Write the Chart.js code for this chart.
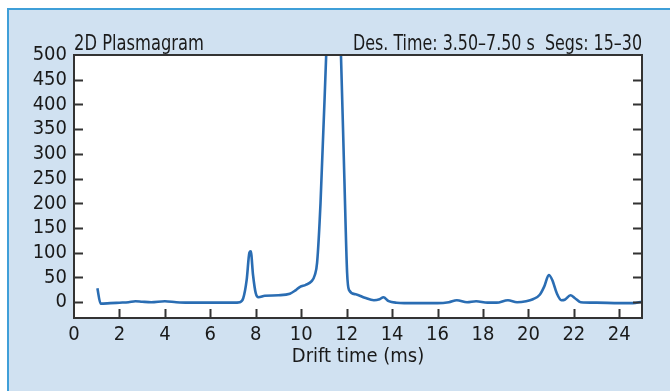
<!DOCTYPE html>
<html>
<head>
<meta charset="utf-8">
<script src="https://cdn.jsdelivr.net/npm/chart.js@4/dist/chart.umd.min.js"></script>
<style>
  html, body { margin: 0; padding: 0; background: #ffffff; }
  #wrap { width: 670px; height: 391px; position: relative; }
</style>
</head>
<body>
<div id="wrap"><canvas id="c" width="670" height="391"></canvas></div>
<script>
// ---- data ----
const driftTime = [1.03, 1.17, 1.6, 2.0, 2.4, 2.7, 3.0, 3.4, 4.0, 4.5, 5.0, 6.0, 7.0, 7.3, 7.45, 7.6, 7.72, 7.78, 7.88, 8.0, 8.12, 8.4, 9.0, 9.5, 9.75, 9.95, 10.2, 10.45, 10.6, 10.7, 10.85, 11.1, 11.42, 11.75, 11.9, 12.02, 12.1, 12.4, 12.8, 13.2, 13.45, 13.62, 13.85, 14.2, 15.0, 16.0, 16.5, 16.85, 17.3, 17.7, 18.2, 18.6, 19.1, 19.5, 19.9, 20.2, 20.5, 20.7, 20.9, 21.05, 21.25, 21.45, 21.6, 21.85, 22.05, 22.3, 23.0, 24.0, 24.6, 25.0];
const intensity = [28, -3, -2, -1, 0, 2, 1, 0, 2, 0, -1, -1, -1, 0, 8, 45, 100, 103, 55, 18, 10, 13, 14, 17, 24, 31, 35, 42, 55, 80, 200, 500, 900, 500, 250, 60, 25, 16, 9, 4, 6, 10, 2, -1, -2, -2, 0, 4, 0, 2, -1, -1, 4, 0, 2, 6, 15, 32, 55, 45, 18, 4, 5, 14, 8, 0, -1, -2, -2, 1];
const xTicks = [0, 2, 4, 6, 8, 10, 12, 14, 16, 18, 20, 22, 24];
const yTicks = [0, 50, 100, 150, 200, 250, 300, 350, 400, 450, 500];
const xTitle = 'Drift time (ms)';
const titleLeft = '2D Plasmagram';
const titleRight = 'Des. Time: 3.50\u20137.50 s  Segs: 15\u201330';

const FONT = '"Liberation Sans Narrow", "DejaVu Sans Condensed", sans-serif';
const TEXT = '#1a1a1a';
const BG = '#d0e1f1';

const framePlugin = {
  id: 'frame',
  beforeDraw(chart) {
    const ctx = chart.ctx, a = chart.chartArea;
    ctx.save();
    ctx.fillStyle = '#ffffff';
    ctx.fillRect(0, 0, chart.width, chart.height);
    ctx.fillStyle = BG;
    ctx.fillRect(8, 9, chart.width - 8, chart.height - 9);
    ctx.strokeStyle = '#3f9fd8';
    ctx.lineWidth = 2;
    ctx.beginPath();
    ctx.moveTo(8, chart.height);
    ctx.lineTo(8, 9);
    ctx.lineTo(chart.width, 9);
    ctx.stroke();
    ctx.fillStyle = '#ffffff';
    ctx.fillRect(a.left, a.top, a.right - a.left, a.bottom - a.top);
    ctx.restore();
  },
  afterDraw(chart) {
    const ctx = chart.ctx, a = chart.chartArea;
    const xs = chart.scales.x, ys = chart.scales.y;
    ctx.save();
    ctx.strokeStyle = '#333333';
    ctx.lineWidth = 2;
    ctx.strokeRect(a.left, a.top, a.right - a.left, a.bottom - a.top);
    ctx.beginPath();
    yTicks.forEach(v => {
      if (v >= 500) return;
      const y = Math.round(ys.getPixelForValue(v)) + 0.5;
      ctx.moveTo(a.left, y); ctx.lineTo(a.left + 9, y);
      ctx.moveTo(a.right, y); ctx.lineTo(a.right - 9, y);
    });
    xTicks.forEach(v => {
      if (v <= 0) return;
      const x = Math.round(xs.getPixelForValue(v)) + 0.5;
      ctx.moveTo(x, a.bottom); ctx.lineTo(x, a.bottom - 9);
    });
    ctx.stroke();
    ctx.fillStyle = TEXT;
    ctx.font = '21px ' + FONT;
    ctx.textBaseline = 'alphabetic';
    ctx.textAlign = 'left';
    ctx.fillText(titleLeft, a.left, 50, 130);
    ctx.textAlign = 'right';
    ctx.fillText(titleRight, a.right, 50, 289);
    ctx.restore();
  }
};

new Chart(document.getElementById('c'), {
  type: 'line',
  data: {
    datasets: [{
      data: driftTime.map((x, i) => ({ x: x, y: intensity[i] })),
      borderColor: '#2a6db3',
      borderWidth: 2.6,
      pointRadius: 0,
      fill: false,
      cubicInterpolationMode: 'monotone'
    }]
  },
  options: {
    responsive: false,
    animation: false,
    devicePixelRatio: 1,
    layout: { padding: { left: 0, right: 28, top: 55, bottom: 18 } },
    plugins: { legend: { display: false }, tooltip: { enabled: false }, title: { display: false } },
    scales: {
      x: {
        type: 'linear', min: 0, max: 25,
        afterBuildTicks: s => { s.ticks = xTicks.map(v => ({ value: v })); },
        afterFit: s => { s.height = 55; },
        grid: { display: false, drawTicks: false },
        border: { display: false },
        ticks: { color: TEXT, font: { family: FONT, size: 20 }, padding: 5, maxRotation: 0, autoSkip: false },
        title: { display: true, text: xTitle, color: TEXT, font: { family: FONT, size: 20 }, padding: { top: 0, bottom: 4 } }
      },
      y: {
        type: 'linear', min: -32, max: 500,
        afterBuildTicks: s => { s.ticks = yTicks.map(v => ({ value: v })); },
        afterFit: s => { s.width = 74; },
        grid: { display: false, drawTicks: false },
        border: { display: false },
        ticks: { color: TEXT, font: { family: FONT, size: 20 }, padding: 7, autoSkip: false }
      }
    }
  },
  plugins: [framePlugin]
});
</script>
</body>
</html>
